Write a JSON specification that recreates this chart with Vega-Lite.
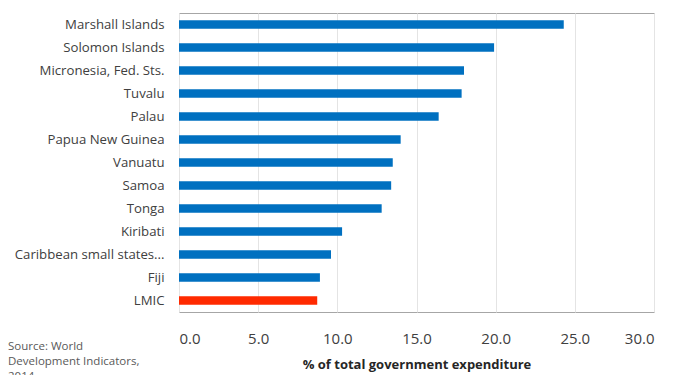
{
  "$schema": "https://vega.github.io/schema/vega-lite/v6.json",
  "width": 475,
  "height": 299,
  "autosize": {"type": "none"},
  "padding": {"left": 179, "top": 13, "right": 19, "bottom": 63},
  "background": "white",
  "config": {
    "font": "Open Sans",
    "view": {"stroke": "#a6a6a6", "strokeWidth": 1}
  },
  "title": {
    "text": ["Source: World", "Development Indicators,", "2014"],
    "orient": "bottom",
    "anchor": "start",
    "frame": "group",
    "dx": -171,
    "offset": -30,
    "fontSize": 11.5,
    "fontWeight": "normal",
    "color": "#595959",
    "lineHeight": 15,
    "font": "Open Sans"
  },
  "data": {
    "values": [
      {"country": "Marshall Islands", "value": 24.3, "group": "Pacific"},
      {"country": "Solomon Islands", "value": 19.9, "group": "Pacific"},
      {"country": "Micronesia, Fed. Sts.", "value": 18.0, "group": "Pacific"},
      {"country": "Tuvalu", "value": 17.85, "group": "Pacific"},
      {"country": "Palau", "value": 16.4, "group": "Pacific"},
      {"country": "Papua New Guinea", "value": 14.0, "group": "Pacific"},
      {"country": "Vanuatu", "value": 13.5, "group": "Pacific"},
      {"country": "Samoa", "value": 13.4, "group": "Pacific"},
      {"country": "Tonga", "value": 12.8, "group": "Pacific"},
      {"country": "Kiribati", "value": 10.3, "group": "Pacific"},
      {"country": "Caribbean small states...", "value": 9.6, "group": "Pacific"},
      {"country": "Fiji", "value": 8.9, "group": "Pacific"},
      {"country": "LMIC", "value": 8.73, "group": "LMIC"}
    ]
  },
  "mark": {"type": "bar"},
  "encoding": {
    "y": {
      "field": "country",
      "type": "nominal",
      "sort": null,
      "scale": {"paddingInner": 0.62, "paddingOuter": 0.31},
      "axis": {
        "title": null,
        "ticks": false,
        "domain": false,
        "labelPadding": 15,
        "labelFontSize": 13.2,
        "labelColor": "#404040",
        "labelFont": "Open Sans"
      }
    },
    "x": {
      "field": "value",
      "type": "quantitative",
      "scale": {"domain": [0, 30], "nice": false},
      "axis": {
        "values": [0, 5, 10, 15, 20, 25, 30],
        "format": ".1f",
        "title": "% of total government expenditure",
        "titleFontSize": 13,
        "titleFontWeight": "bold",
        "titleColor": "#262626",
        "titlePadding": 12,
        "labelFontSize": 15,
        "labelColor": "#404040",
        "labelPadding": 19,
        "ticks": false,
        "domain": false,
        "grid": true,
        "gridColor": "#e4e4e4",
        "labelFont": "Open Sans",
        "titleFont": "Open Sans"
      }
    },
    "color": {
      "field": "group",
      "type": "nominal",
      "scale": {"domain": ["Pacific", "LMIC"], "range": ["#0070C0", "#FF2A00"]},
      "legend": null
    }
  }
}
